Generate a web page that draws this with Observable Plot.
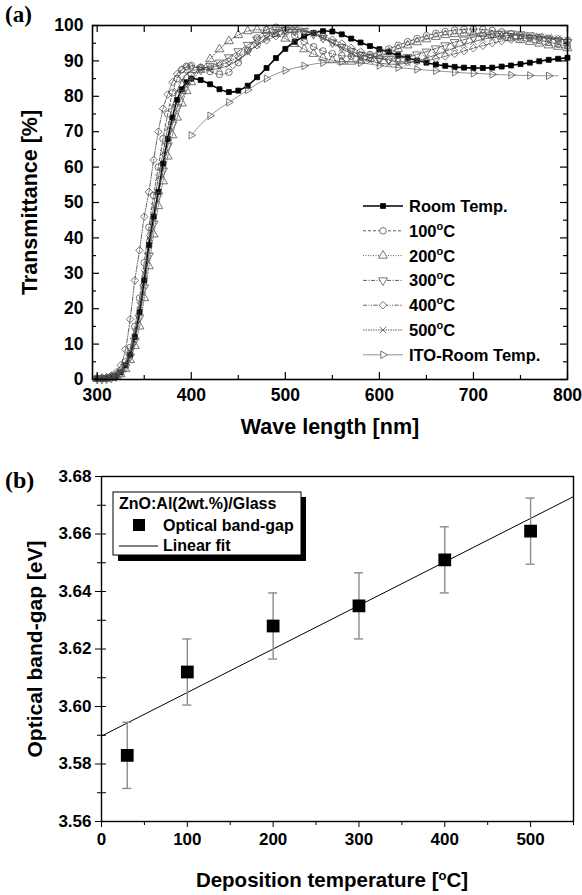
<!DOCTYPE html>
<html><head><meta charset="utf-8">
<script src="https://cdn.jsdelivr.net/npm/d3@7"></script>
<script src="https://cdn.jsdelivr.net/npm/@observablehq/plot@0.6"></script>
<style>
body{margin:0;background:#fff;}
#wrap{position:relative;width:582px;height:895px;overflow:hidden;}
#pa{position:absolute;left:0;top:0;}
#pb{position:absolute;left:0;top:445px;}
svg{overflow:visible;}
</style></head><body>
<div id="wrap"><div id="pa"></div><div id="pb"></div></div>
<script>
// ---------------- Panel (a) data ----------------
const wavelength = [300,305,310,315,320,325,330,335,340,345,350,355,360,365,370,375,380,385,390,395,
 400,410,420,430,440,450,460,470,480,490,500,510,520,530,540,550,560,570,580,590,
 600,610,620,630,640,650,660,670,680,690,700,710,720,730,740,750,760,770,780,790,800];

const seriesNames = ["Room Temp.","100°C","200°C","300°C","400°C","500°C","ITO-Room Temp."];

const roomTemp = [0.3,0.3,0.4,0.6,1.0,2.0,4.0,7.0,12,19,28,38,46,53,61,68,74,79,82,84,
 85,84.6,83.4,82,81.2,81.6,83,85.4,88,90.8,93.4,95.4,96.9,97.9,98.4,98.3,97.5,96.3,95.2,94.2,
 93.3,92.5,91.6,90.8,90.1,89.5,89,88.6,88.3,88.1,88,88,88.1,88.4,88.7,89.1,89.5,89.9,90.3,90.6,90.9];
const t100 = [0.3,0.3,0.4,0.7,1.3,2.6,5,9,15,23,33,43,52,60,68,75,81,85,87.5,88.5,
 88.7,88.2,87,86.2,86.8,89.5,93,96.5,98.8,99.5,98.8,97.2,95.5,94,92.8,92,91.5,91.3,91.4,91.8,
 92.5,93.4,94.4,95.4,96.3,97.1,97.8,98.3,98.7,98.9,99,98.9,98.6,98.2,97.7,97.1,96.5,95.9,95.3,94.7,94.2];
const t200 = [0.2,0.2,0.3,0.5,0.8,1.5,3,5.5,9.5,15,23,32,41,49,56,63,69,74,78,81.5,
 84,87.5,90.5,93.3,95.6,97.3,98.4,98.8,98.5,97.6,96.3,94.8,93.3,92,90.9,90.2,89.8,89.8,90.1,90.7,
 91.5,92.4,93.4,94.4,95.3,96.1,96.8,97.3,97.6,97.8,97.8,97.6,97.3,96.9,96.4,95.9,95.4,94.9,94.4,94,93.6];
const t300 = [0.2,0.2,0.3,0.5,0.9,1.8,3.5,6.5,11,17.5,26,35,44,52,59,66,72,77,81,84,
 86,87.5,88.5,89.5,91,92.7,94.5,96,97.3,98.2,98.7,98.8,98.4,97.6,96.5,95.2,93.9,92.7,91.7,91,
 90.6,90.5,90.7,91.1,91.8,92.6,93.5,94.4,95.3,96,96.7,97.2,97.5,97.7,97.7,97.5,97.2,96.8,96.3,95.8,95.3];
const t400 = [0.3,0.4,0.6,1.1,2,4,8.5,17,28,36.5,46,53,62,70,76.5,80.5,84,86.3,87.6,88.2,
 88.3,88.1,88.2,88.8,89.8,91.2,92.8,94.4,95.8,97,97.8,98.2,98.2,97.8,97,96,94.9,93.7,92.6,91.6,
 90.8,90.2,89.8,89.7,89.8,90.1,90.6,91.3,92,92.8,93.6,94.3,95,95.6,96,96.3,96.5,96.5,96.4,96.2,95.9];
const t500 = [0.3,0.3,0.4,0.6,1.1,2.2,4.3,8,13.5,21,30,40,49,57,64,71,77,81.5,84.5,86.3,
 87.2,87.6,87.6,87.9,88.8,90.3,92.3,94.5,96.5,98,98.8,99,98.6,97.7,96.5,95,93.5,92.1,90.9,90,
 89.4,89.1,89.1,89.4,90,90.8,91.7,92.7,93.7,94.6,95.4,96.1,96.6,97,97.2,97.3,97.2,97,96.7,96.3,95.9];
const ito = [null,null,null,null,null,null,null,null,null,null,null,null,null,null,null,null,null,null,null,null,
 69,72,74.5,76.5,78.3,80,81.8,83.5,85,86.3,87.3,88,88.6,89.1,89.5,89.7,89.8,89.7,89.5,89.1,
 88.7,88.4,88.1,87.9,87.6,87.4,87.2,87,86.8,86.6,86.5,86.4,86.2,86.1,86,85.9,85.9,85.8,85.8,85.8,null];

const xTicksA = [300,400,500,600,700,800];
const xMinorA = [350,450,550,650,750];
const yTicksA = [0,10,20,30,40,50,60,70,80,90,100];
const yMinorA = [5,15,25,35,45,55,65,75,85,95];

// ---------------- Panel (b) data ----------------
const depTemp = [30,100,200,300,400,500];
const bandGap = [3.583,3.612,3.628,3.635,3.651,3.661];
const bandGapErr = [0.0115,0.0115,0.0115,0.0115,0.0115,0.0115];
const xTicksB = [0,100,200,300,400,500];
const xMinorB = [50,150,250,350,450,550];
const yTicksB = [3.56,3.58,3.60,3.62,3.64,3.66,3.68];
const yMinorB = [3.57,3.59,3.61,3.63,3.65,3.67];

// ---------------- styles ----------------
const FONT = "Liberation Sans, Arial, sans-serif";
const seriesStyle = [
  {stroke:"#000", sw:1.6, dash:null, symbol:"square", r:2.8, fill:"#000", mstroke:"#000", rotate:0},
  {stroke:"#333", sw:0.8, dash:"3,2", symbol:"circle", r:3.3, fill:"none", mstroke:"#555", rotate:0},
  {stroke:"#333", sw:0.8, dash:"1,1.5", symbol:"triangle", r:3.3, fill:"none", mstroke:"#555", rotate:0},
  {stroke:"#333", sw:0.8, dash:"4,1.5,1,1.5", symbol:"triangle", r:3.3, fill:"none", mstroke:"#555", rotate:180},
  {stroke:"#333", sw:0.8, dash:"4,1.5,1,1.5,1,1.5", symbol:"diamond2", r:3.4, fill:"none", mstroke:"#555", rotate:0},
  {stroke:"#333", sw:0.8, dash:"1.5,1", symbol:"times", r:3.0, fill:"none", mstroke:"#555", rotate:0},
  {stroke:"#666", sw:0.7, dash:null, symbol:"triangle", r:2.8, fill:"none", mstroke:"#555", rotate:90}
];
const seriesValues = [roomTemp, t100, t200, t300, t400, t500, ito];

const rows = seriesNames.flatMap((name, s) =>
  wavelength.map((wl, i) => ({name, s, i, wl, T: seriesValues[s][i]})).filter(d => d.T != null));

// ---------------- Panel (a) ----------------
const WA = 582, HA = 445, mtA = 25, mbA = 66, mlA = 92, mrA = 15;
const fwA = WA - mlA - mrA, fhA = HA - mtA - mbA;

const curveMarks = seriesNames.flatMap((name, s) => {
  const st = seriesStyle[s];
  const data = rows.filter(d => d.s === s);
  const dots = s === 6 ? data.filter(d => d.i % 2 === 0) : data;
  return [
    Plot.line(data, {x: "wl", y: "T", stroke: st.stroke, strokeWidth: st.sw, strokeDasharray: st.dash, curve: "catmull-rom"}),
    Plot.dot(dots, {x: "wl", y: "T", symbol: st.symbol, r: st.r, fill: st.fill, stroke: st.mstroke, strokeWidth: 0.8, rotate: st.rotate})
  ];
});

const chartA = Plot.plot({
  width: WA, height: HA,
  marginTop: mtA, marginBottom: mbA, marginLeft: mlA, marginRight: mrA,
  style: {fontFamily: FONT, fontWeight: "bold", fontSize: "17px", color: "#000", background: "#fff"},
  x: {domain: [295, 800]},
  y: {domain: [0, 100]},
  marks: [
    ...curveMarks,
    Plot.tickX(xTicksA, {x: d => d, insetTop: fhA - 7, stroke: "#000", strokeWidth: 1.2}),
    Plot.tickX(xMinorA, {x: d => d, insetTop: fhA - 4, stroke: "#000", strokeWidth: 1.2}),
    Plot.tickX(xTicksA.concat(xMinorA), {x: d => d, insetBottom: fhA - 7, stroke: "#000", strokeWidth: 1.2}),
    Plot.tickY(yTicksA, {y: d => d, insetRight: fwA - 7, stroke: "#000", strokeWidth: 1.2}),
    Plot.tickY(yMinorA, {y: d => d, insetRight: fwA - 4, stroke: "#000", strokeWidth: 1.2}),
    Plot.tickY(yTicksA, {y: d => d, insetLeft: fwA - 7, stroke: "#000", strokeWidth: 1.2}),
    Plot.tickY(yMinorA, {y: d => d, insetLeft: fwA - 4, stroke: "#000", strokeWidth: 1.2}),
    Plot.frame({stroke: "#000", strokeWidth: 1.6}),
    Plot.axisX(xTicksA, {tickSize: 0, tickPadding: 9, label: null, fontSize: 17.5}),
    Plot.axisY(yTicksA, {tickSize: 0, tickPadding: 9, label: null, fontSize: 17.5}),
    Plot.text(["Wave length [nm]"], {frameAnchor: "bottom", dy: 54, text: d => d, fontSize: 21.5, fontWeight: "bold", textAnchor: "middle"}),
    Plot.text(["Transmittance [%]"], {frameAnchor: "left", dx: -62, rotate: -90, text: d => d, fontSize: 21.5, fontWeight: "bold", textAnchor: "middle"})
  ]
});
document.getElementById("pa").appendChild(chartA);

// ---------------- Panel (b) ----------------
const WB = 582, HB = 450, mtB = 31, mbB = 74, mlB = 101, mrB = 9;
const pts = depTemp.map((t, i) => ({t, g: bandGap[i], e: bandGapErr[i]}));
const mx = d3.mean(depTemp), my = d3.mean(bandGap);
const slope = d3.sum(pts, d => (d.t - mx) * (d.g - my)) / d3.sum(pts, d => (d.t - mx) ** 2);
const intercept = my - slope * mx;
const xDomB = [0, 550];
const fit = xDomB.map(x => ({x, y: intercept + slope * x}));

const chartB = Plot.plot({
  width: WB, height: HB,
  marginTop: mtB, marginBottom: mbB, marginLeft: mlB, marginRight: mrB,
  style: {fontFamily: FONT, fontWeight: "bold", fontSize: "17px", color: "#000", background: "#fff"},
  x: {domain: xDomB},
  y: {domain: [3.56, 3.68]},
  marks: [
    Plot.line(fit, {x: "x", y: "y", stroke: "#000", strokeWidth: 1}),
    Plot.ruleX(pts, {x: "t", y1: d => d.g - d.e, y2: d => d.g + d.e, stroke: "#8c8c8c", strokeWidth: 1.4}),
    Plot.ruleY(pts, {y: d => d.g + d.e, x1: "t", x2: "t", insetLeft: -4.5, insetRight: -4.5, stroke: "#8c8c8c", strokeWidth: 1.4}),
    Plot.ruleY(pts, {y: d => d.g - d.e, x1: "t", x2: "t", insetLeft: -4.5, insetRight: -4.5, stroke: "#8c8c8c", strokeWidth: 1.4}),
    Plot.dot(pts, {x: "t", y: "g", symbol: "square", r: 7.2, fill: "#000"}),
    Plot.frame({stroke: "#000", strokeWidth: 1.4}),
    Plot.axisX(xTicksB, {tickSize: 6, tickPadding: 5, label: null, fontSize: 17}),
    Plot.axisX(xMinorB, {tickSize: 4, tickFormat: () => "", label: null}),
    Plot.axisY(yTicksB, {tickSize: 6, tickPadding: 4, tickFormat: d3.format(".2f"), label: null, fontSize: 17}),
    Plot.axisY(yMinorB, {tickSize: 4, tickFormat: () => "", label: null}),
    Plot.tickY(yMinorB.concat(yTicksB), {y: d => d, insetRight: (WB - mlB - mrB) - 5, stroke: "#000"}),
    Plot.text(["Optical band-gap [eV]"], {frameAnchor: "left", dx: -66, rotate: -90, text: d => d, fontSize: 21, fontWeight: "bold", textAnchor: "middle"})
  ]
});
document.getElementById("pb").appendChild(chartB);

// ---------------- extra labels / legends (layout) ----------------
const sa = d3.select(chartA);
sa.append("text").attr("x", 5).attr("y", 22).attr("text-anchor", "start")
  .attr("font-family", "Liberation Serif, Times New Roman, serif")
  .attr("font-weight", "bold").attr("font-size", 23).text("(a)");

const lg = sa.append("g").attr("font-family", FONT).attr("font-weight", "bold").attr("font-size", 16.5).attr("text-anchor", "start");
const symMap = {square: d3.symbolSquare, circle: d3.symbolCircle, triangle: d3.symbolTriangle, diamond2: d3.symbolDiamond2, times: d3.symbolTimes};
seriesNames.forEach((name, s) => {
  const st = seriesStyle[s];
  const y = 206 + s * 24.8;
  lg.append("line").attr("x1", 363).attr("x2", 403).attr("y1", y).attr("y2", y)
    .attr("stroke", st.stroke).attr("stroke-width", st.sw).attr("stroke-dasharray", st.dash);
  lg.append("path").attr("d", d3.symbol(symMap[st.symbol], Math.PI * st.r * st.r)())
    .attr("transform", `translate(383,${y}) rotate(${st.rotate})`)
    .attr("fill", st.fill === "none" ? "#fff" : st.fill).attr("stroke", st.mstroke).attr("stroke-width", 0.8);
  const t = lg.append("text").attr("x", 409).attr("y", y + 6);
  const m = name.match(/^(\d+)°C$/);
  if (m) {
    t.append("tspan").text(m[1]);
    t.append("tspan").attr("dy", -7).attr("font-size", 11).text("o");
    t.append("tspan").attr("dy", 7).text("C");
  } else t.text(name);
});

const sb = d3.select(chartB);
sb.append("text").attr("x", 5).attr("y", 43).attr("text-anchor", "start")
  .attr("font-family", "Liberation Serif, Times New Roman, serif")
  .attr("font-weight", "bold").attr("font-size", 24).text("(b)");
const xt = sb.append("text").attr("x", 332).attr("y", 442).attr("text-anchor", "middle")
  .attr("font-family", FONT).attr("font-weight", "bold").attr("font-size", 20.5);
xt.append("tspan").text("Deposition temperature [");
xt.append("tspan").attr("dy", -7).attr("font-size", 13).text("o");
xt.append("tspan").attr("dy", 7).text("C]");
const lb = sb.append("g").attr("font-family", FONT).attr("font-weight", "bold").attr("font-size", 16).attr("text-anchor", "start");
lb.append("rect").attr("x", 118).attr("y", 52).attr("width", 188).attr("height", 64).attr("fill", "#000");
lb.append("rect").attr("x", 113).attr("y", 47).attr("width", 188).attr("height", 63).attr("fill", "#fff").attr("stroke", "#000").attr("stroke-width", 1);
lb.append("text").attr("x", 119).attr("y", 64).text("ZnO:Al(2wt.%)/Glass");
lb.append("rect").attr("x", 133).attr("y", 74).attr("width", 12).attr("height", 12).attr("fill", "#000");
lb.append("text").attr("x", 163).attr("y", 86).text("Optical band-gap");
lb.append("line").attr("x1", 119).attr("x2", 158).attr("y1", 101).attr("y2", 101).attr("stroke", "#000").attr("stroke-width", 1);
lb.append("text").attr("x", 163).attr("y", 106).text("Linear fit");
</script>
</body></html>
